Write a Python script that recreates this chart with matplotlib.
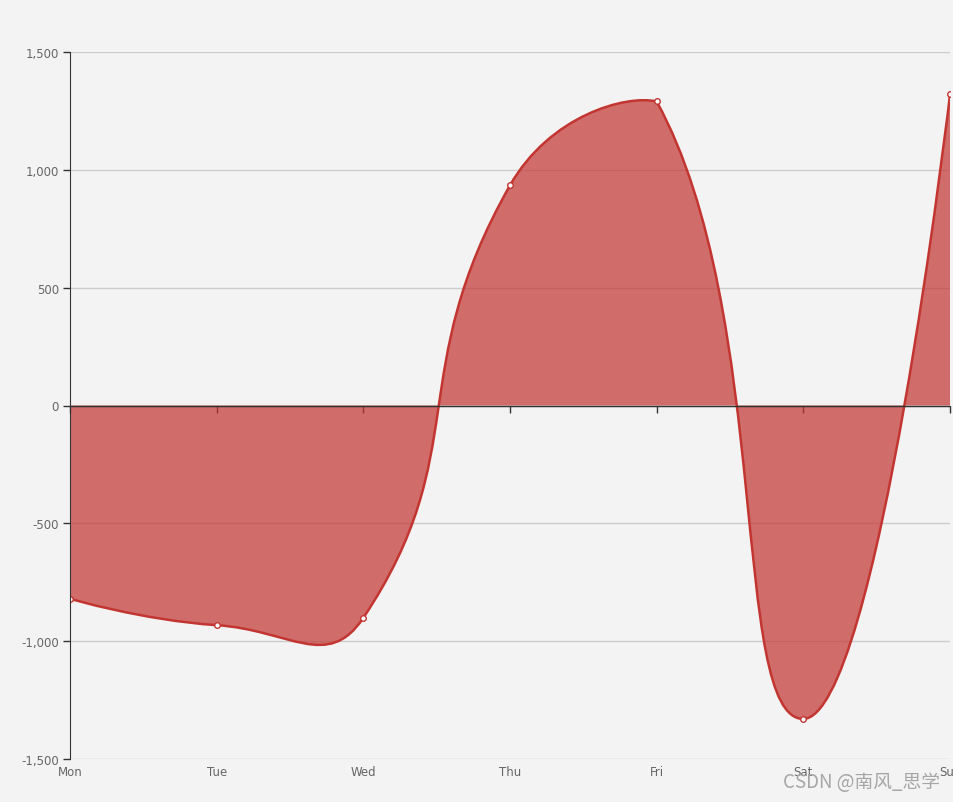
import numpy as np
import matplotlib
matplotlib.use("Agg")
import matplotlib.pyplot as plt
from matplotlib.path import Path
from matplotlib.patches import PathPatch

days = ["Mon", "Tue", "Wed", "Thu", "Fri", "Sat", "Sun"]
values = [-820, -932, -901, 934, 1290, -1330, 1320]
yticks = [-1500, -1000, -500, 0, 500, 1000, 1500]
ytick_labels = ["-1,500", "-1,000", "-500", "0", "500", "1,000", "1,500"]

BG = "#f3f3f3"
LINE = "#c23531"

fig = plt.figure(figsize=(9.54, 8.03), dpi=100, facecolor=BG)
ax = fig.add_axes([70/954, 1-760/803, 880/954, (760-53)/803])
ax.set_facecolor(BG)
xs = np.arange(len(days))
ax.set_xlim(0, len(days) - 1)
ax.set_ylim(-1500, 1500)
fig.canvas.draw()

# ECharts 4 style smoothing (with constraint) in pixel space
pts = ax.transData.transform(np.column_stack([xs, values]).astype(float))
smooth = 0.5
n = len(pts)
pmin = pts.min(axis=0)
pmax = pts.max(axis=0)
cps = []
for i in range(n):
    p = pts[i]
    if i == 0 or i == n - 1:
        cps.append(p.copy())
        cps.append(p.copy())
        continue
    prev, nxt = pts[i-1], pts[i+1]
    v = (nxt - prev) * smooth
    d0 = np.hypot(*(p - prev))
    d1 = np.hypot(*(p - nxt))
    s = d0 + d1
    d0 /= s
    d1 /= s
    c0 = np.clip(p - v * d0, pmin, pmax)
    c1 = np.clip(p + v * d1, pmin, pmax)
    cps.append(c0)
    cps.append(c1)

verts = [tuple(pts[0])]
codes = [Path.MOVETO]
for i in range(1, n):
    verts += [tuple(cps[2*(i-1)+1]), tuple(cps[2*i]), tuple(pts[i])]
    codes += [Path.CURVE4]*3

inv = ax.transData.inverted()
dverts = inv.transform(np.array(verts))
line_path = Path(dverts, codes)

base0 = (xs[0], 0.0)
baseN = (xs[-1], 0.0)
fverts = [base0] + [tuple(v) for v in dverts] + [baseN, base0]
fcodes = [Path.MOVETO, Path.LINETO] + codes[1:] + [Path.LINETO, Path.CLOSEPOLY]
fill = PathPatch(Path(fverts, fcodes), facecolor=LINE, alpha=0.7, edgecolor="none", zorder=2)
ax.add_patch(fill)
ax.add_patch(PathPatch(line_path, facecolor="none", edgecolor=LINE, lw=1.8, zorder=3))
ax.plot(xs, values, ls="none", marker="o", ms=4, mfc="white", mec=LINE, mew=1, zorder=4)

for yv in yticks:
    if yv != 0:
        ax.axhline(yv, color="#cccccc", lw=1, zorder=1)
ax.axhline(0, color="#333333", lw=1, zorder=3.5)

ax.set_yticks(yticks)
ax.set_yticklabels(ytick_labels)
ax.tick_params(axis="y", length=5, width=1, color="#333333", labelcolor="#666666", labelsize=8.5, pad=3)

for s in ["top", "right"]:
    ax.spines[s].set_visible(False)
ax.spines["left"].set_color("#333333")
ax.spines["left"].set_zorder(5)
ax.spines["bottom"].set_position(("data", 0))
ax.spines["bottom"].set_color("#333333")
ax.set_xticks(xs)
ax.set_xticklabels([])
ax.tick_params(axis="x", length=5, width=1, color="#333333", direction="out")

sec = ax.secondary_xaxis("bottom")
sec.set_xticks(xs)
sec.set_xticklabels(days)
sec.tick_params(length=0, labelcolor="#666666", labelsize=8.5, pad=4)
sec.spines["bottom"].set_visible(False)

fig.text(940/954, 1-783/803, "CSDN @南风_思学", ha="right", va="center",
         fontsize=13.5, color="#a6a6a6", family=["Noto Sans CJK SC", "DejaVu Sans"])

fig.savefig("out.png", dpi=100, facecolor=BG)
